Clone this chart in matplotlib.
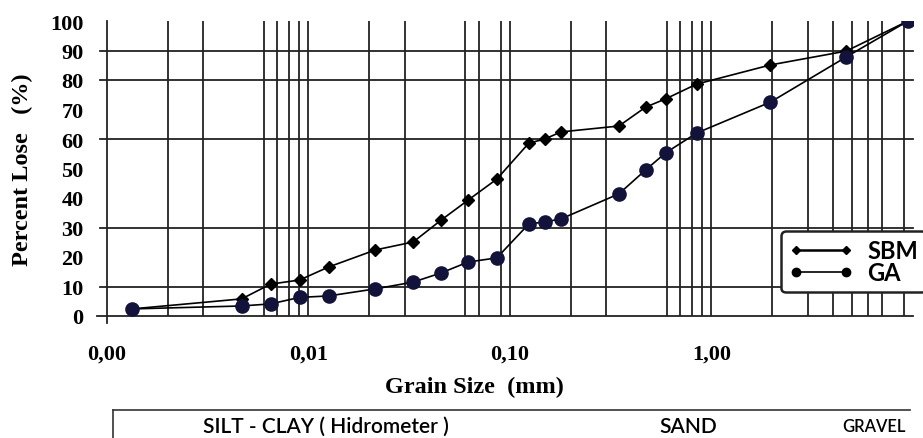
import matplotlib
matplotlib.use("Agg")
import matplotlib.pyplot as plt
from matplotlib.lines import Line2D

# grain size (mm) of each sieve / hydrometer reading
grain_size = [0.00133, 0.00466, 0.00648, 0.00903, 0.01257, 0.0215, 0.0331, 0.0455,
              0.062, 0.086, 0.124, 0.149, 0.179, 0.347, 0.471, 0.592, 0.843, 1.96,
              4.66, 9.45]
sbm = [2.4, 5.8, 10.8, 12.2, 16.6, 22.4, 25.1, 32.5, 39.3, 46.4, 58.6, 60.0, 62.4,
       64.4, 70.8, 73.6, 78.6, 85.1, 89.8, 100]
ga = [2.4, 3.4, 4.1, 6.3, 6.8, 9.2, 11.5, 14.6, 18.3, 19.7, 31.2, 31.9, 32.9,
      41.4, 49.5, 55.3, 62.0, 72.5, 87.8, 100]

xticks = [0.001, 0.01, 0.1, 1]
xtick_labels = ["0,00", "0,01", "0,10", "1,00"]
yticks = list(range(0, 101, 10))
# the scanned chart only has some of the grid lines
xgrid = [0.002, 0.003, 0.006, 0.007, 0.008, 0.009, 0.01, 0.02, 0.03, 0.06, 0.07,
         0.09, 0.1, 0.2, 0.3, 0.6, 0.7, 0.8, 0.9, 1, 2, 3, 4, 5, 6, 7, 9]
ygrid = [10, 30, 60, 80, 90]

serif = "Liberation Serif"
sans = "Lato"

W, H = 923, 439
fig = plt.figure(figsize=(W / 100, H / 100), dpi=100)
ax = fig.add_axes([107 / W, 1 - 317 / H, 806 / W, 295 / H])
ax.set_xscale("log")
ax.set_xlim(0.001, 10)
ax.set_ylim(0, 100)

for v in xgrid:
    ax.axvline(v, color="#222222", lw=1.3, zorder=1)
for v in ygrid:
    ax.axhline(v, xmin=-0.009, xmax=1, color="#222222", lw=1.3, zorder=1, clip_on=False)
ax.axhline(0, xmin=-0.012, xmax=1, color="#222222", lw=1.3, zorder=1, clip_on=False)
ax.axvline(0.001, ymin=-0.025, ymax=1, color="#222222", lw=1.3, zorder=1, clip_on=False)

ax.plot(grain_size, sbm, color="black", lw=1.2, marker="D", ms=6.5,
        mfc="black", mec="black", zorder=3)
ax.plot(grain_size, ga, color="black", lw=1.2, marker="o", ms=9.5,
        mfc="#12123a", mec="#12123a", zorder=3)

for s in ax.spines.values():
    s.set_visible(False)
ax.set_xticks(xticks)
ax.set_xticklabels(xtick_labels)
ax.xaxis.set_minor_locator(matplotlib.ticker.NullLocator())
ax.set_yticks(yticks)
ax.tick_params(axis="x", length=0, pad=20)
ax.tick_params(axis="y", length=0, pad=17)
for lab in ax.get_xticklabels() + ax.get_yticklabels():
    lab.set_fontfamily(serif)
    lab.set_fontweight("bold")
    lab.set_fontsize(16)

fig.text(22 / W, 1 - 170 / H, "Percent Lose   (%)", rotation=90, ha="center",
         va="center", fontfamily=serif, fontweight="bold", fontsize=17.5)
fig.text(474 / W, 1 - 387 / H, "Grain Size  (mm)", ha="center", va="center",
         fontfamily=serif, fontweight="bold", fontsize=17.5)

handles = [Line2D([], [], color="black", lw=1.8, marker="D", ms=4.5),
           Line2D([], [], color="black", lw=1.2, marker="o", ms=6)]
leg = fig.legend(handles, ["SBM", "GA"], loc="upper left",
                 bbox_to_anchor=(781 / W, 1 - 232 / H), borderaxespad=0,
                 fancybox=True, framealpha=1, edgecolor="#222222",
                 prop={"family": sans, "weight": "bold", "size": 17},
                 handlelength=2.7, handletextpad=0.6, labelspacing=-0.05,
                 borderpad=0.35, numpoints=2)
leg.get_frame().set_linewidth(1.8)

# classification strip under the chart
fig.add_artist(Line2D([113 / W, 910 / W], [1 - 411 / H, 1 - 411 / H],
                      color="#333333", lw=1.2))
fig.add_artist(Line2D([113 / W, 113 / W], [1 - 411 / H, 0], color="#333333", lw=1.2))
fig.text(326 / W, 1 - 427 / H, "SILT - CLAY ( Hidrometer )", ha="center", va="center",
         fontfamily=sans, fontweight="semibold", fontsize=15)
fig.text(688 / W, 1 - 427 / H, "SAND", ha="center", va="center",
         fontfamily=sans, fontweight="semibold", fontsize=15)
fig.text(874 / W, 1 - 427 / H, "GRAVEL", ha="center", va="center",
         fontfamily=sans, fontweight="semibold", fontsize=12)

fig.savefig("out.png", dpi=100)
